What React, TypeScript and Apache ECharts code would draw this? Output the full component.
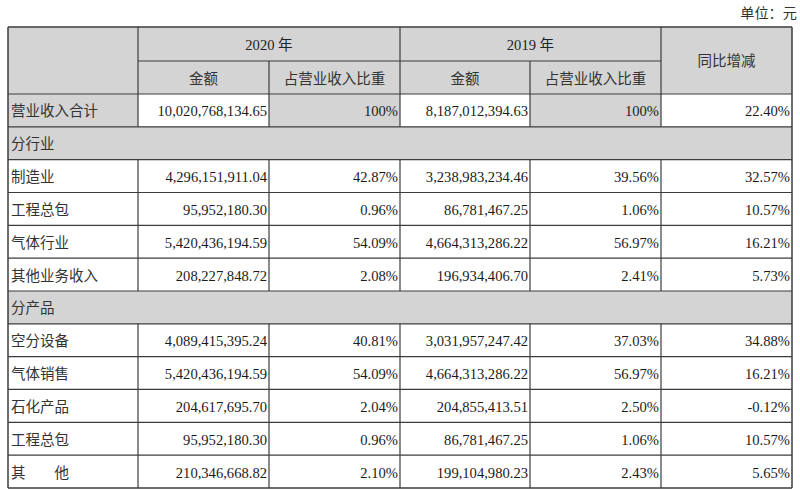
import React, { useEffect, useRef } from "react";
import * as echarts from "echarts";

const unitLabel = "单位：元";
const yearHeaders = ["2020 年", "2019 年"];
const subHeaders = ["金额", "占营业收入比重"];
const yoyHeader = "同比增减";

const rowLabels = ["营业收入合计", "分行业", "制造业", "工程总包", "气体行业", "其他业务收入", "分产品", "空分设备", "气体销售", "石化产品", "工程总包", "其　　他"];
const sectionRows = [false, true, false, false, false, false, true, false, false, false, false, false];
const amount2020 = ["10,020,768,134.65", "", "4,296,151,911.04", "95,952,180.30", "5,420,436,194.59", "208,227,848.72", "", "4,089,415,395.24", "5,420,436,194.59", "204,617,695.70", "95,952,180.30", "210,346,668.82"];
const ratio2020 = ["100%", "", "42.87%", "0.96%", "54.09%", "2.08%", "", "40.81%", "54.09%", "2.04%", "0.96%", "2.10%"];
const amount2019 = ["8,187,012,394.63", "", "3,238,983,234.46", "86,781,467.25", "4,664,313,286.22", "196,934,406.70", "", "3,031,957,247.42", "4,664,313,286.22", "204,855,413.51", "86,781,467.25", "199,104,980.23"];
const ratio2019 = ["100%", "", "39.56%", "1.06%", "56.97%", "2.41%", "", "37.03%", "56.97%", "2.50%", "1.06%", "2.43%"];
const yoyChange = ["22.40%", "", "32.57%", "10.57%", "16.21%", "5.73%", "", "34.88%", "16.21%", "-0.12%", "10.57%", "5.65%"];

const FONT = "'Liberation Serif', 'Times New Roman', 'Noto Sans CJK SC', serif";
const GRAY = "#d4d4d4";
const LINE = "#3c3c3c";

export default function App() {
  const ref = useRef<HTMLDivElement>(null);
  useEffect(() => {
    if (!ref.current) return;
    const chart = echarts.init(ref.current, undefined, { renderer: "svg" });
    const cols = [8, 138, 269, 400, 530, 661, 792];
    const top = 27;
    const h1 = 61;
    const h2 = 94;
    const rowH = 32.83;
    const nRows = rowLabels.length;
    const bottom = h2 + rowH * nRows;
    const rowTop = (i: number) => h2 + rowH * i;

    const els: any[] = [];
    els.push({ type: "rect", shape: { x: cols[0], y: top, width: cols[6] - cols[0], height: h2 - top }, style: { fill: GRAY } });
    rowLabels.forEach((_, i) => {
      const y = rowTop(i);
      if (sectionRows[i]) {
        els.push({ type: "rect", shape: { x: cols[0], y, width: cols[6] - cols[0], height: rowH }, style: { fill: GRAY } });
      } else if (i === 0) {
        [0, 2, 4].forEach((c) => {
          els.push({ type: "rect", shape: { x: cols[c], y, width: cols[c + 1] - cols[c], height: rowH }, style: { fill: GRAY } });
        });
      }
    });

    const line = (x1: number, y1: number, x2: number, y2: number, w = 1.2) =>
      els.push({ type: "line", shape: { x1, y1, x2, y2 }, style: { stroke: LINE, lineWidth: w } });

    line(cols[0], top, cols[6], top, 1.5);
    line(cols[1], h1, cols[5], h1);
    line(cols[0], h2, cols[6], h2);
    for (let i = 1; i <= nRows; i++) line(cols[0], rowTop(i), cols[6], rowTop(i), i === nRows ? 1.5 : 1.2);
    line(cols[0], top, cols[0], bottom, 1.5);
    line(cols[6], top, cols[6], bottom, 1.5);
    [1, 3, 5].forEach((c) => line(cols[c], top, cols[c], h2));
    [2, 4].forEach((c) => line(cols[c], h1, cols[c], h2));
    rowLabels.forEach((_, i) => {
      if (sectionRows[i]) return;
      [1, 2, 3, 4, 5].forEach((c) => line(cols[c], rowTop(i), cols[c], rowTop(i + 1)));
    });

    const text = (t: string, x: number, y: number, align: string, size = 14.3, color = "#222") =>
      els.push({
        type: "text",
        x,
        y,
        style: { text: t, fill: color, font: `${size}px ${FONT}`, align, verticalAlign: "middle" },
      });

    text(unitLabel, 797, 13, "right", 14.2, "#333");
    text(yearHeaders[0], (cols[1] + cols[3]) / 2, (top + h1) / 2 + 1, "center", 14.6);
    text(yearHeaders[1], (cols[3] + cols[5]) / 2, (top + h1) / 2 + 1, "center", 14.6);
    text(yoyHeader, (cols[5] + cols[6]) / 2, (top + h2) / 2, "center", 14.5, "#333");
    [0, 1].forEach((k) => {
      text(subHeaders[0], (cols[1 + 2 * k] + cols[2 + 2 * k]) / 2, (h1 + h2) / 2 + 1, "center", 14.5, "#333");
      text(subHeaders[1], (cols[2 + 2 * k] + cols[3 + 2 * k]) / 2, (h1 + h2) / 2 + 1, "center", 14.5, "#333");
    });

    const valueCols = [amount2020, ratio2020, amount2019, ratio2019, yoyChange];
    rowLabels.forEach((lab, i) => {
      const cy = rowTop(i) + rowH / 2 + 1;
      text(lab, cols[0] + 3, cy, "left", 14.5, "#333");
      valueCols.forEach((arr, c) => {
        if (arr[i]) text(arr[i], cols[c + 2] - 2, cy, "right", 14.6, "#1a1a1a");
      });
    });

    chart.setOption({ animation: false, graphic: { elements: els } });
    return () => chart.dispose();
  }, []);
  return <div ref={ref} style={{ position: "fixed", left: 0, top: 0, width: 800, height: 491, background: "#fff" }} />;
}
